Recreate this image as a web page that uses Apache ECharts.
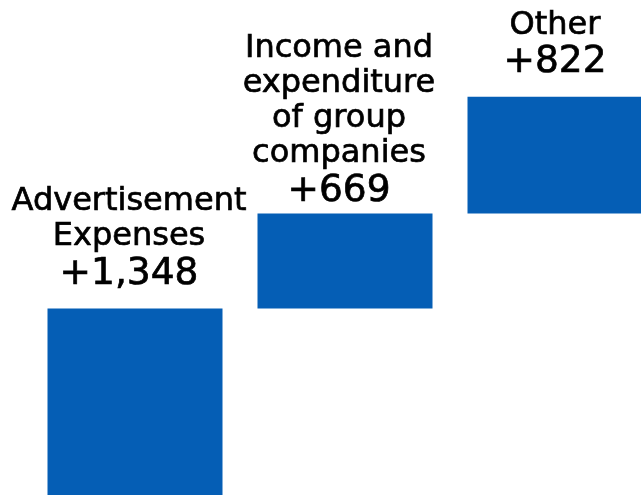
<!DOCTYPE html>
<html>
<head>
<meta charset="utf-8">
<script src="https://cdn.jsdelivr.net/npm/echarts@6/dist/echarts.min.js"></script>
<style>
  html, body { margin: 0; padding: 0; background: #fff; }
  #chart { width: 641px; height: 495px; }
</style>
</head>
<body>
<div id="chart"></div>
<script>
// Contributions to the year-on-year change (waterfall steps)
const categories = [
  'Advertisement\nExpenses',
  'Income and\nexpenditure\nof group\ncompanies',
  'Other'
];
const increments = [1348, 669, 822];

// Invisible base of each step = running total of the previous steps
const bases = [];
let running = 0;
for (const v of increments) {
  bases.push(running);
  running += v;
}

const fmt = v => '+' + v.toLocaleString('en-US');

// small per-label nudges
const labelOffsets = [[-6, 0], [-6, 12], [0, 0]];

const chart = echarts.init(document.getElementById('chart'), null, { renderer: 'canvas' });

const textStyle = {
  fontFamily: 'DejaVu Sans',
  color: '#000',
  align: 'center',
  textBorderColor: '#000',
  textBorderWidth: 0.7
};

chart.setOption({
  animation: false,
  // plot area runs slightly past the right and bottom edges of the canvas
  grid: {
    left: 30, top: 0, width: 630, height: 500,
    containLabel: false,
    outerBoundsMode: 'none'
  },
  xAxis: {
    type: 'category',
    data: categories,
    show: false
  },
  yAxis: {
    type: 'value',
    min: 0,
    max: 3520,
    show: false
  },
  series: [
    {
      type: 'bar',
      stack: 'total',
      barWidth: 175,
      silent: true,
      itemStyle: { color: 'transparent' },
      data: bases
    },
    {
      type: 'bar',
      stack: 'total',
      barWidth: 175,
      itemStyle: { color: '#055EB5' },
      data: increments.map((v, i) => ({
        value: v,
        label: { offset: labelOffsets[i] }
      })),
      label: {
        show: true,
        position: 'top',
        distance: 14,
        align: 'center',
        fontFamily: 'DejaVu Sans',
        color: '#000',
        formatter: p => '{name|' + categories[p.dataIndex] + '}\n{num|' + fmt(p.value) + '}',
        rich: {
          name: Object.assign({ fontSize: 32, lineHeight: 35 }, textStyle),
          num: Object.assign({ fontSize: 37.5, lineHeight: 40 }, textStyle)
        }
      }
    }
  ]
});
</script>
</body>
</html>
